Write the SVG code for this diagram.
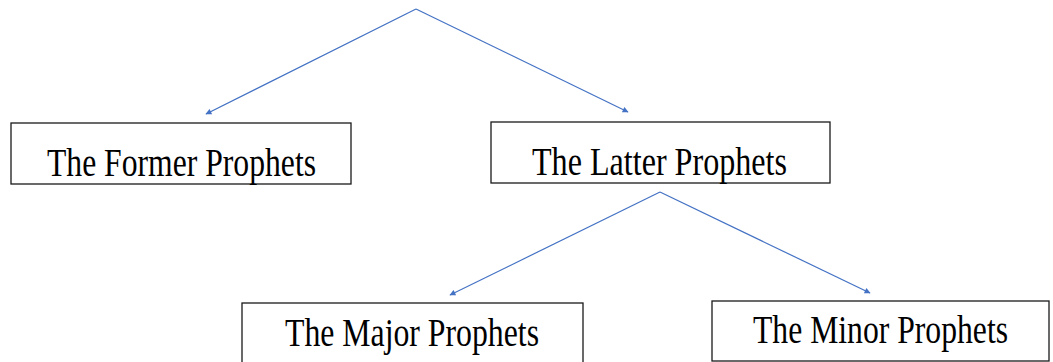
<svg xmlns="http://www.w3.org/2000/svg" width="1053" height="362" viewBox="0 0 1053 362">
<style>
.box{fill:#fff;stroke:#1a1a1a;stroke-width:1.3}
.lbl{font-family:"Liberation Serif","Times New Roman",serif;font-size:40px;fill:#000}
.edge{fill:none;stroke:#4472C4;stroke-width:1.2}
</style>
<defs>
<marker id="ah" viewBox="0 0 10 10" refX="9" refY="5" markerWidth="7" markerHeight="6" orient="auto" markerUnits="userSpaceOnUse">
<path d="M0,0 L10,5 L0,10 z" fill="#4472C4"/>
</marker>
</defs>
<g id="connectors">
<line class="edge" x1="416" y1="9" x2="206" y2="114" marker-end="url(#ah)"/>
<line class="edge" x1="416" y1="9" x2="628" y2="112" marker-end="url(#ah)"/>
<line class="edge" x1="660" y1="192" x2="450" y2="295" marker-end="url(#ah)"/>
<line class="edge" x1="660" y1="192" x2="870" y2="293" marker-end="url(#ah)"/>
</g>
<g id="former">
<rect class="box" x="11" y="123" width="340" height="61"/>
<text class="lbl" x="47" y="176" textLength="269" lengthAdjust="spacingAndGlyphs">The Former Prophets</text>
</g>
<g id="latter">
<rect class="box" x="491" y="122" width="339" height="61"/>
<text class="lbl" x="532" y="175" textLength="255" lengthAdjust="spacingAndGlyphs">The Latter Prophets</text>
</g>
<g id="major">
<rect class="box" x="242" y="303" width="341" height="62"/>
<text class="lbl" x="285" y="346" textLength="254" lengthAdjust="spacingAndGlyphs">The Major Prophets</text>
</g>
<g id="minor">
<rect class="box" x="712" y="301" width="337" height="60"/>
<text class="lbl" x="753" y="343" textLength="255" lengthAdjust="spacingAndGlyphs">The Minor Prophets</text>
</g>
</svg>
